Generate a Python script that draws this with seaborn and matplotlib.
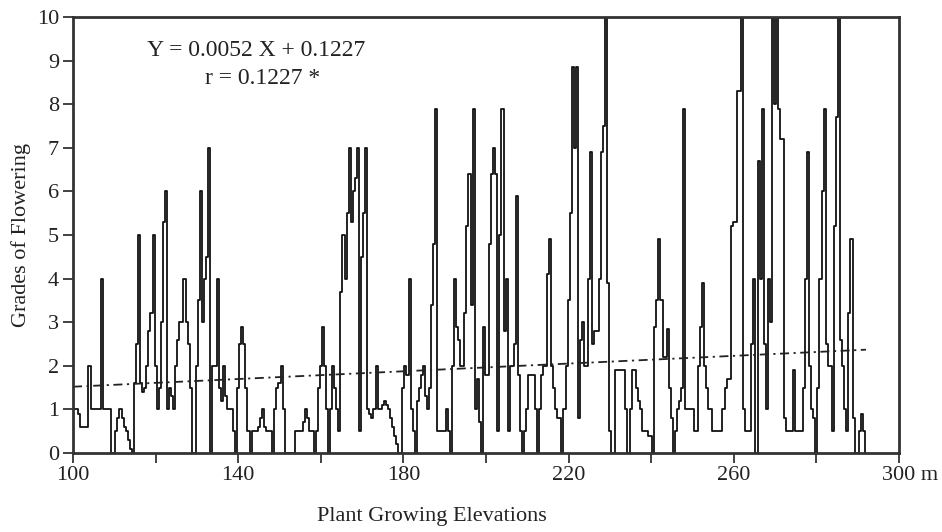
import numpy as np
import pandas as pd
import matplotlib
matplotlib.use("Agg")
import matplotlib.pyplot as plt
import matplotlib.transforms as mtransforms
import seaborn as sns

# Elevation grid (m) — readings every 0.5 m from 100 to 292
elev_start, elev_stop, elev_step = 100.0, 292.0, 0.5

# Grades of flowering, one row = 10 m
grades = [
    # 100
    1.0, 1.0, 1.0, 0.9, 0.6, 0.6, 0.6, 0.6, 2.0, 1.0, 1.0, 1.0, 1.0, 1.0, 4.0, 1.0, 1.0, 1.0, 1.0, 0.0,
    # 110
    0.0, 0.5, 0.8, 1.0, 0.8, 0.6, 0.5, 0.3, 0.1, 0.0, 1.6, 2.5, 5.0, 1.6, 1.4, 1.5, 2.0, 2.8, 3.2, 5.0,
    # 120
    2.0, 1.0, 1.5, 3.0, 5.3, 6.0, 1.0, 1.5, 1.3, 1.0, 2.0, 2.6, 3.0, 3.0, 4.0, 3.0, 2.5, 1.5, 0.0, 0.0,
    # 130
    2.0, 3.5, 6.0, 3.0, 4.0, 4.5, 7.0, 0.0, 2.0, 2.0, 4.0, 1.5, 1.2, 2.0, 1.3, 1.0, 1.0, 1.0, 0.5, 0.0,
    # 140
    1.5, 2.5, 2.9, 2.5, 1.5, 0.5, 0.0, 0.5, 0.5, 0.5, 0.6, 0.8, 1.0, 0.6, 0.5, 0.5, 0.5, 0.0, 1.0, 1.5,
    # 150
    1.6, 2.0, 1.0, 0.0, 0.0, 0.0, 0.0, 0.0, 0.5, 0.5, 0.5, 0.5, 0.7, 1.0, 0.8, 0.5, 0.5, 0.0, 0.5, 1.5,
    # 160
    2.0, 2.9, 2.0, 1.0, 0.0, 1.0, 2.0, 1.5, 1.0, 0.5, 3.7, 5.0, 4.0, 5.5, 7.0, 5.3, 6.0, 6.3, 7.0, 0.5,
    # 170
    4.5, 5.5, 7.0, 1.0, 0.9, 0.8, 1.0, 2.0, 1.0, 1.0, 1.1, 1.2, 1.1, 1.0, 0.8, 0.6, 0.4, 0.2, 0.0, 0.0,
    # 180
    1.5, 2.0, 1.8, 4.0, 1.0, 0.5, 0.0, 1.2, 1.5, 1.8, 2.0, 1.3, 1.0, 1.5, 3.4, 4.8, 7.9, 0.5, 0.5, 0.5,
    # 190
    0.5, 1.0, 0.5, 0.0, 2.0, 4.0, 2.9, 2.6, 2.0, 2.0, 3.2, 5.2, 6.4, 3.4, 7.9, 1.0, 1.7, 0.7, 0.0, 2.9,
    # 200
    1.8, 1.8, 4.8, 6.4, 7.0, 6.4, 0.5, 5.0, 7.9, 2.8, 4.0, 0.5, 2.0, 2.0, 2.5, 5.9, 1.8, 0.5, 0.0, 0.5,
    # 210
    1.0, 1.8, 1.8, 1.8, 1.0, 0.0, 1.0, 1.8, 2.0, 2.0, 4.1, 4.9, 2.0, 1.5, 1.0, 0.8, 0.8, 0.0, 1.0, 2.0,
    # 220
    3.5, 5.5, 8.85, 7.0, 8.85, 0.8, 2.6, 3.0, 2.0, 2.0, 4.0, 6.9, 2.5, 2.8, 2.8, 4.0, 6.9, 7.5, 10.0, 3.9,
    # 230
    0.5, 0.0, 0.0, 1.9, 1.9, 1.9, 1.9, 1.9, 1.0, 0.0, 1.0, 1.9, 1.9, 1.5, 1.2, 1.0, 0.5, 0.5, 0.5, 0.4,
    # 240
    0.4, 0.0, 2.9, 3.5, 4.9, 3.5, 2.2, 2.2, 2.85, 1.5, 0.8, 0.0, 0.5, 1.0, 1.2, 1.5, 7.9, 1.0, 1.0, 1.0,
    # 250
    1.0, 0.5, 0.5, 2.0, 2.9, 3.9, 2.0, 1.5, 1.0, 1.0, 0.5, 0.5, 0.5, 0.5, 0.5, 1.0, 1.5, 1.7, 1.7, 5.2,
    # 260
    5.3, 5.3, 8.3, 8.3, 10.0, 1.0, 0.5, 0.5, 0.5, 2.5, 4.0, 0.0, 6.7, 4.0, 7.9, 2.5, 1.0, 4.0, 3.0, 10.0,
    # 270
    8.0, 10.0, 7.9, 7.2, 7.2, 0.8, 0.5, 0.5, 0.5, 1.9, 0.5, 0.5, 0.5, 0.5, 1.5, 4.0, 6.9, 2.0, 1.0, 0.8,
    # 280
    0.0, 1.5, 4.0, 6.0, 7.9, 2.5, 2.0, 2.0, 0.5, 5.2, 7.7, 10.0, 2.6, 2.0, 1.0, 0.5, 3.2, 4.9, 0.8, 0.0,
    # 290
    0.0, 0.5, 0.9, 0.5, 0.0,
]

# Regression (trend) line end points as drawn
trend_x = [100, 292]
trend_y = [1.52, 2.37]

x_ticks = [100, 120, 140, 160, 180, 200, 220, 240, 260, 280, 300]
x_tick_labels = ["100", "", "140", "", "180", "", "220", "", "260", "", "300 m"]
y_ticks = [0, 1, 2, 3, 4, 5, 6, 7, 8, 9, 10]

equation_text = "Y = 0.0052 X + 0.1227"
r_text = "r = 0.1227 *"
x_label = "Plant Growing Elevations"
y_label = "Grades of Flowering"

elevations = np.arange(elev_start, elev_stop + elev_step / 2, elev_step)
df = pd.DataFrame({"elev": elevations, "grade": grades})
trend_df = pd.DataFrame({"elev": trend_x, "grade": trend_y})

sns.set_style("ticks")
plt.rcParams["font.family"] = ["Liberation Serif", "DejaVu Serif"]

FS = 16
TXT = "#222222"

fig = plt.figure(figsize=(9.42, 5.32), dpi=100)
ax = fig.add_axes([73 / 942, 1 - 453 / 532, (899 - 73) / 942, (453 - 17) / 532])

sns.lineplot(data=df, x="elev", y="grade", ax=ax, color="#111111", linewidth=1.3,
             estimator=None, sort=False, drawstyle="steps-mid")
sns.lineplot(data=trend_df, x="elev", y="grade", ax=ax, color="#222222", linewidth=1.3,
             estimator=None, sort=False, dashes=False)
ax.lines[-1].set_dashes([5, 2.5, 1.2, 2.5])

ax.set_xlim(100, 300)
ax.set_ylim(0, 10)
ax.set_xticks(x_ticks)
ax.set_xticklabels(x_tick_labels)
ax.set_yticks(y_ticks)
ax.set_xlabel("")
ax.set_ylabel("")

for sp in ax.spines.values():
    sp.set_visible(True)
    sp.set_linewidth(2.0)
    sp.set_color("#333333")

ax.tick_params(axis="both", direction="out", length=7, width=1.3, color="#333333",
               labelsize=FS, labelcolor=TXT)
ax.tick_params(axis="x", pad=2)
ax.tick_params(axis="y", pad=3)

# shift the "300 m" label so that "300" sits under its tick
last = ax.get_xticklabels()[-1]
last.set_ha("left")
last.set_transform(last.get_transform() + mtransforms.ScaledTranslation(-17 / 100, 0, fig.dpi_scale_trans))

fig.text(147 / 942, 1 - 50 / 532, equation_text, fontsize=FS + 1, color=TXT, va="center")
fig.text(205 / 942, 1 - 78 / 532, r_text, fontsize=FS + 1, color=TXT, va="center")

fig.text(432 / 942, 1 - 517 / 532, x_label, fontsize=FS, color=TXT, ha="center", va="center")
fig.text(21 / 942, 1 - 235 / 532, y_label, fontsize=FS, color=TXT, ha="center", va="center",
         rotation=90)

fig.savefig("out.png", dpi=100, facecolor="white")
